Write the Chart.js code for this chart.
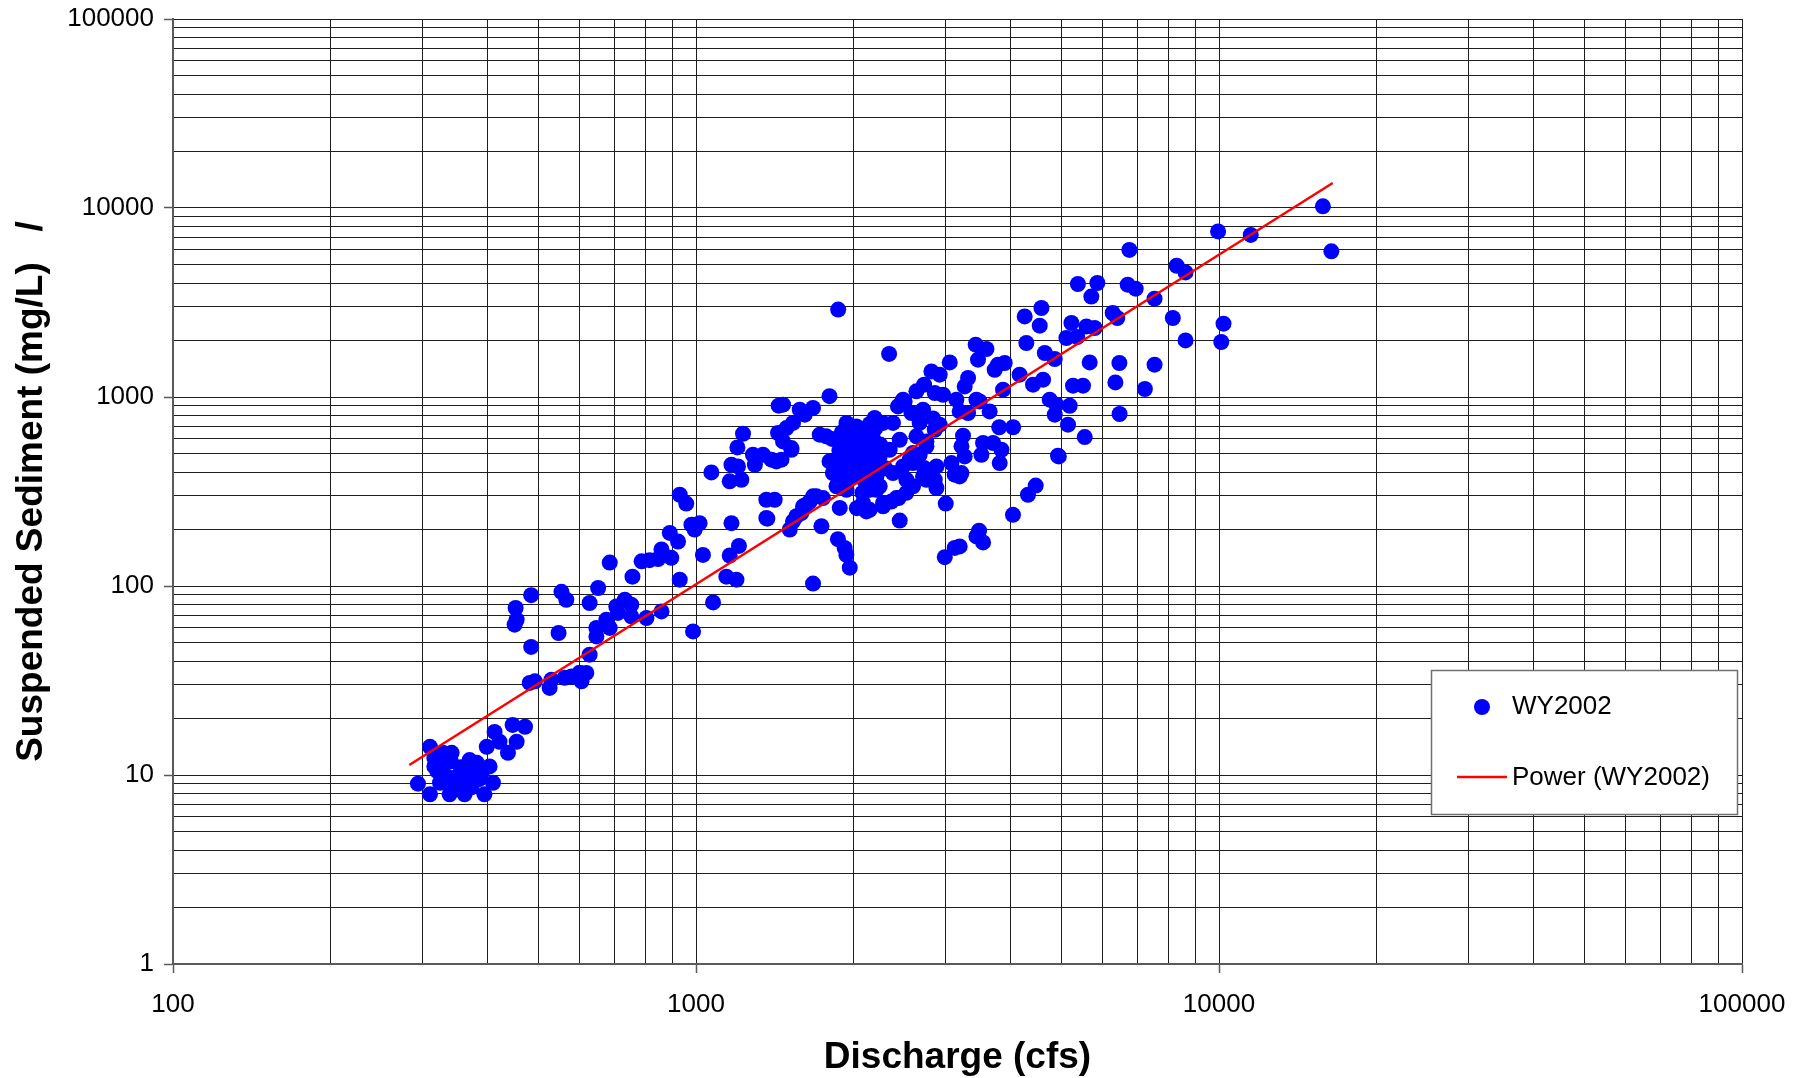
<!DOCTYPE html>
<html>
<head>
<meta charset="utf-8">
<script src="https://cdn.jsdelivr.net/npm/chart.js@4.4.0/dist/chart.umd.min.js"></script>
<style>
  html, body { margin: 0; padding: 0; background: #ffffff; }
  canvas { display: block; }
</style>
</head>
<body>
<canvas id="chart" width="1802" height="1078"></canvas>
<script>
// ---------- text ----------
const xTitle = 'Discharge (cfs)';
const yTitle = 'Suspended Sediment (mg/L)   /';
const seriesName = 'WY2002';
const trendName = 'Power (WY2002)';

// ---------- tick labels ----------
const xTickLabels = ['100', '1000', '10000', '100000'];
const yTickLabels = ['1', '10', '100', '1000', '10000', '100000'];
const minorSteps = [2, 3, 4, 5, 6, 7, 8, 9];

// ---------- data: discharge (cfs) / suspended sediment (mg/L) ----------
// below ~500 cfs
const qLow = [294, 310, 310, 338, 361, 394, 316, 316, 328, 341, 369, 381, 349, 334, 324, 364, 403, 398, 409, 412, 421, 437, 454, 446, 471, 330, 355, 375, 345, 385, 320, 360, 390, 340, 372, 452, 454, 450, 484, 484, 481, 492];
const sLow = [9.0, 14.1, 7.9, 7.9, 7.9, 7.9, 11.1, 12.3, 13.1, 13.1, 12.0, 11.6, 9.8, 9.8, 9.1, 9.1, 11.1, 14.1, 9.1, 16.9, 15.0, 13.1, 15.0, 18.4, 18.0, 11.5, 11.0, 10.2, 8.5, 9.5, 10.5, 10.5, 10.5, 11.8, 8.6, 76.5, 66.3, 62.4, 89.4, 47.6, 30.7, 31.3];

// ~500 - 1000 cfs
const qMid = [529, 525, 561, 578, 599, 617, 604, 626, 645, 645, 674, 684, 650, 626, 704, 731, 752, 709, 752, 804, 859, 987, 931, 756, 684, 787, 815, 846, 859, 897, 891, 924, 980, 994, 931, 958, 553, 565, 546];
const sMid = [31.9, 28.9, 32.7, 33.2, 34.8, 34.7, 31.3, 43.3, 54.1, 60.0, 66.3, 60.0, 97.6, 81.3, 78.0, 84.6, 79.6, 72.0, 69.1, 67.7, 73.4, 57.5, 108, 112, 133, 135, 137, 139, 156, 141, 191, 172, 211, 199, 304, 273, 93.1, 84.6, 56.4];

// ~1000 - 2000 cfs
const qHigh = [1078, 1143, 1195, 1016, 1031, 1160, 1208, 1169, 1363, 1414, 1363, 1511, 1533, 1590, 1626, 1674, 1749, 1737, 1868, 1939, 1968, 1674, 1883, 1868, 1160, 1221, 1070, 1169, 1203, 1230, 1200, 1285, 1343, 1296, 1425, 1394, 1435, 1467, 1522, 1489, 1533, 1439, 1579, 1614, 1674, 1800, 1870, 1467, 1522, 1457, 1369, 1800, 1724, 1775, 1614, 1940, 1967, 1940, 1940, 1827, 1996, 1856, 1940, 1699, 1650, 1602, 1556, 1924, 1900, 1980, 1900, 1860, 1920, 1880, 1900, 1820];
const sHigh = [81.9, 112, 108, 215, 146, 145, 163, 215, 286, 286, 229, 199, 220, 243, 269, 298, 292, 207, 177, 146, 125, 103, 259, 344, 358, 365, 399, 438, 429, 639, 541, 495, 495, 438, 456, 466, 645, 582, 526, 685, 729, 900, 857, 806, 875, 1010, 2900, 911, 537, 466, 227, 456, 632, 619, 264, 729, 594, 506, 412, 396, 380, 337, 323, 298, 280, 264, 234, 159, 650, 650, 560, 470, 360, 520, 440, 600];

// ~2000 - 5000 cfs
const qFlood = [2340, 2026, 2086, 2380, 2280, 2506, 2582, 2717, 2840, 2677, 2346, 2026, 2148, 2245, 2086, 2213, 2148, 2245, 2380, 2488, 2600, 2677, 2758, 2730, 2882, 2717, 2861, 2525, 2600, 2525, 2416, 2086, 2148, 2279, 2030, 2118, 2279, 2363, 2440, 2080, 2213, 2452, 3003, 2990, 3123, 3193, 3477, 3539, 4037, 4313, 4462, 4922, 4746, 4888, 4852, 4410, 4609, 4157, 3864, 3779, 3893, 3725, 3643, 3487, 3313, 3193, 3147, 3313, 3264, 2819, 2924, 3056, 3426, 3592, 3461, 4251, 4576, 4542, 4282, 4645, 4852, 3800, 4040, 3240, 3218, 3264, 3539, 3698, 3837, 3513, 3808, 3078, 3193, 3123, 2882, 2758, 2563, 2600, 2639, 2758, 2924, 2861, 2470, 2433, 2196, 2452, 3218, 3437, 3437, 2639, 2730, 2967, 2861, 2488, 2060, 2120, 2000, 2100, 2180, 2100, 2180, 2250, 2300, 2000, 2200, 2150, 2050, 4940];
const sFlood = [1690, 699, 619, 729, 729, 948, 823, 857, 770, 729, 526, 485, 506, 485, 412, 380, 323, 337, 396, 429, 447, 495, 548, 421, 429, 380, 365, 365, 337, 311, 292, 275, 253, 264, 258, 248, 275, 280, 292, 311, 323, 222, 273, 142, 159, 162, 196, 170, 238, 304, 340, 489, 968, 911, 806, 1162, 1235, 1312, 1093, 1482, 1513, 1394, 839, 948, 823, 839, 968, 1260, 1138, 1366, 1312, 1524, 1891, 1795, 1575, 2670, 2958, 2384, 1931, 1709, 1589, 692, 692, 624, 548, 485, 571, 571, 526, 495, 447, 447, 380, 388, 330, 365, 466, 506, 619, 582, 714, 671, 930, 892, 774, 594, 396, 968, 183, 1071, 1162, 1028, 1050, 968, 560, 560, 440, 460, 430, 360, 600, 560, 420, 520, 680, 720, 400, 485];

// above ~5000 cfs
const qPeak = [5537, 5144, 5182, 5258, 5495, 5107, 5222, 5579, 5784, 5659, 5700, 6740, 8300, 8630, 5373, 5853, 6690, 6930, 7530, 5357, 6262, 6390, 8160, 8630, 10200, 10100, 6450, 7530, 6337, 7216, 6455, 15800, 16400, 9960, 11500];
const sPeak = [614, 714, 899, 1148, 1148, 2052, 2463, 2363, 2318, 1524, 3400, 6000, 4950, 4563, 3963, 4010, 3928, 3741, 3313, 2077, 2783, 2618, 2618, 1993, 2443, 1954, 1513, 1482, 1195, 1102, 813, 10200, 5900, 7520, 7200];

// power trendline end points
const trendQ = [283, 16500];
const trendS = [11.3, 13560];

// ---------- build ----------
const discharge = [].concat(qLow, qMid, qHigh, qFlood, qPeak);
const sediment = [].concat(sLow, sMid, sHigh, sFlood, sPeak);
const scatterData = discharge.map((q, i) => ({ x: q, y: sediment[i] }));
const trendData = trendQ.map((q, i) => ({ x: q, y: trendS[i] }));

function logTicks(labels) {
  const majors = labels.map(Number);
  const out = [];
  majors.forEach((v, i) => {
    out.push(v);
    if (i < majors.length - 1) minorSteps.forEach(m => out.push(v * m));
  });
  return out;
}
const xMajors = xTickLabels.map(Number);
const yMajors = yTickLabels.map(Number);
const xTicks = logTicks(xTickLabels);
const yTicks = logTicks(yTickLabels);

const FONT = '"Liberation Sans", Arial, Helvetica, sans-serif';
const GRID = '#1e1e1e';
const AXIS = '#5a5a5a';

const legendPlugin = {
  id: 'boxLegend',
  afterDraw(chart) {
    const ctx = chart.ctx;
    const ds = chart.data.datasets;
    const scatter = ds.find(d => d.type !== 'line');
    const trend = ds.find(d => d.type === 'line');
    const x0 = 1431, y0 = 670, w = 306, h = 144;
    ctx.save();
    ctx.fillStyle = '#ffffff';
    ctx.fillRect(x0, y0, w, h);
    ctx.strokeStyle = '#707070';
    ctx.lineWidth = 1.5;
    ctx.strokeRect(x0 + 0.5, y0 + 0.5, w, h);
    ctx.fillStyle = scatter.backgroundColor;
    ctx.beginPath();
    ctx.arc(x0 + 51, y0 + 37, 8, 0, Math.PI * 2);
    ctx.fill();
    ctx.fillStyle = '#000000';
    ctx.font = '26px ' + FONT;
    ctx.textBaseline = 'middle';
    ctx.textAlign = 'left';
    ctx.fillText(scatter.label, x0 + 81, y0 + 37);
    ctx.strokeStyle = trend.borderColor;
    ctx.lineWidth = 2.5;
    ctx.beginPath();
    ctx.moveTo(x0 + 26, y0 + 107);
    ctx.lineTo(x0 + 76, y0 + 107);
    ctx.stroke();
    ctx.fillText(trend.label, x0 + 81, y0 + 108);
    ctx.restore();
  }
};

new Chart(document.getElementById('chart'), {
  type: 'scatter',
  data: {
    datasets: [
      {
        type: 'line',
        label: trendName,
        data: trendData,
        borderColor: '#ff0000',
        borderWidth: 2.5,
        pointRadius: 0,
        fill: false,
        tension: 0,
        order: 0
      },
      {
        type: 'scatter',
        label: seriesName,
        data: scatterData,
        backgroundColor: '#0000ff',
        borderWidth: 0,
        pointRadius: 8,
        pointHoverRadius: 8,
        order: 1
      }
    ]
  },
  options: {
    responsive: false,
    animation: false,
    devicePixelRatio: 1,
    layout: { padding: { left: 0, top: 19, right: 60, bottom: 0 } },
    plugins: {
      legend: { display: false },
      tooltip: { enabled: false }
    },
    scales: {
      x: {
        type: 'logarithmic',
        position: 'bottom',
        min: 100,
        max: 100000,
        afterBuildTicks: s => { s.ticks = xTicks.map(v => ({ value: v })); },
        afterFit: s => { s.height = 114; s.paddingLeft = 0; s.paddingRight = 0; },
        ticks: {
          autoSkip: false,
          maxRotation: 0,
          minRotation: 0,
          padding: 16,
          color: '#000000',
          font: { family: FONT, size: 26 },
          callback: v => (xMajors.includes(v) ? String(v) : '')
        },
        grid: {
          color: GRID,
          lineWidth: 1,
          tickLength: 9,
          tickWidth: 1.5,
          tickColor: c => (c.tick && xMajors.includes(c.tick.value) ? AXIS : 'rgba(0,0,0,0)')
        },
        border: { display: true, color: AXIS, width: 2 },
        title: {
          display: true,
          text: xTitle,
          color: '#000000',
          font: { family: FONT, size: 37, weight: 'bold', lineHeight: 1.1 },
          padding: { top: 0, bottom: 0 }
        }
      },
      y: {
        type: 'logarithmic',
        position: 'left',
        min: 1,
        max: 100000,
        afterBuildTicks: s => { s.ticks = yTicks.map(v => ({ value: v })); },
        afterFit: s => { s.width = 173; s.paddingTop = 0; s.paddingBottom = 0; },
        ticks: {
          autoSkip: false,
          padding: 10,
          color: '#000000',
          font: { family: FONT, size: 26 },
          callback: v => (yMajors.includes(v) ? String(v) : '')
        },
        grid: {
          color: GRID,
          lineWidth: 1,
          tickLength: 9,
          tickWidth: 1.5,
          tickColor: c => (c.tick && yMajors.includes(c.tick.value) ? AXIS : 'rgba(0,0,0,0)')
        },
        border: { display: true, color: AXIS, width: 2 },
        title: {
          display: true,
          text: yTitle,
          color: '#000000',
          font: { family: FONT, size: 37, weight: 'bold', lineHeight: 1.1 },
          padding: { top: 11, bottom: 0 }
        }
      }
    }
  },
  plugins: [legendPlugin]
});
</script>
</body>
</html>
